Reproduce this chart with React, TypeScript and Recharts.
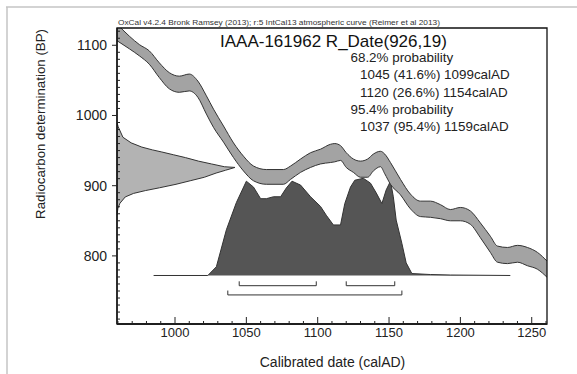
import React from 'react';
import { ComposedChart, Area, Line, XAxis, YAxis, ReferenceArea } from 'recharts';

// Calibration curve (IntCal13) band
const curveYears = [959, 968, 975, 982, 989, 996, 1003, 1010, 1016, 1022, 1027, 1034, 1041, 1048, 1055, 1064, 1076, 1081, 1088, 1095, 1102, 1109, 1112, 1116, 1120, 1125, 1130, 1135, 1139, 1144, 1147, 1151, 1158, 1165, 1172, 1179, 1186, 1193, 1200, 1207, 1214, 1221, 1226, 1233, 1240, 1247, 1254, 1261];
const curveHigh = [1131, 1113, 1101, 1092, 1075, 1061, 1056, 1059, 1049, 1028, 1009, 985, 961, 942, 928, 923, 923, 928, 938, 947, 952, 959, 960, 957, 947, 938, 935, 938, 945, 949, 945, 933, 909, 888, 878, 878, 873, 866, 869, 864, 847, 828, 814, 812, 815, 812, 805, 792];
const curveLow = [1107, 1095, 1085, 1073, 1054, 1038, 1033, 1035, 1026, 1002, 983, 962, 940, 921, 907, 902, 902, 909, 919, 926, 931, 933, 934, 936, 926, 919, 912, 912, 921, 927, 917, 902, 887, 867, 856, 855, 853, 850, 850, 845, 826, 805, 791, 789, 791, 786, 781, 769];

// Calibrated probability distribution (relative %)
const distYears = [985, 1023, 1029, 1036, 1043, 1050, 1055, 1060, 1064, 1069, 1074, 1078, 1082, 1088, 1095, 1102, 1106, 1111, 1116, 1119, 1123, 1126, 1132, 1137, 1141, 1145, 1148, 1151, 1153, 1155, 1159, 1162, 1166, 1179, 1193, 1235];
const distProb = [0, 0, 9, 47, 75, 97, 91, 79, 79, 81, 81, 90, 97, 93, 81, 71, 62, 52, 52, 74, 91, 98, 100, 95, 85, 74, 88, 97, 81, 57, 33, 13, 2, 1, 0.5, 0];

// Radiocarbon determination 926±19 BP (relative %)
const rdateBP = [990, 984, 969, 961, 955, 951, 948, 944, 940, 935, 931, 927, 926, 922, 918, 912, 907, 902, 897, 893, 889, 884, 875, 868, 858];
const rdateProb = [0, 1, 5, 12, 21, 30, 38, 48, 58, 69, 80, 91, 100, 92, 84, 74, 62, 50, 36, 24, 14, 7, 2.5, 0.8, 0];

// Ranges
const ranges68 = [[1045, 1099], [1120, 1154]];
const ranges95 = [[1037, 1159]];

const xMajorTicks = [1000, 1050, 1100, 1150, 1200, 1250];
const yMajorTicks = [800, 900, 1000, 1100];

const title = 'IAAA-161962 R_Date(926,19)';
const subtitle = 'OxCal v4.2.4 Bronk Ramsey (2013); r:5 IntCal13 atmospheric curve (Reimer et al 2013)';
const legendLines = [
  { text: '68.2% probability', indent: 0 },
  { text: '1045 (41.6%) 1099calAD', indent: 1 },
  { text: '1120 (26.6%) 1154calAD', indent: 1 },
  { text: '95.4% probability', indent: 0 },
  { text: '1037 (95.4%) 1159calAD', indent: 1 },
];

const FONT = '"Liberation Sans", Arial, Helvetica, sans-serif';
const X_DOMAIN: [number, number] = [959.35, 1260.7];
const Y_DOMAIN: [number, number] = [703, 1124.6];
const P_DOMAIN: [number, number] = [-49.9, 254.6];
const PROB_DOMAIN: [number, number] = [0, 364.4];

const xAllTicks: number[] = [];
for (let v = 960; v <= 1260; v += 10) xAllTicks.push(v);
const yAllTicks: number[] = [];
for (let v = 710; v <= 1120; v += 10) yAllTicks.push(v);

const curveData = curveYears.map((year, i) => ({ year, band: [curveLow[i], curveHigh[i]] }));
const distData = distYears.map((year, i) => ({ year, p: distProb[i] }));
const rdateData = rdateBP.map((bp, i) => ({ pct: rdateProb[i], bp }));

const bracket = (from: number, to: number, level: number) => [
  { year: from, p: level + 4.5 },
  { year: from, p: level },
  { year: to, p: level },
  { year: to, p: level + 4.5 },
];
const brackets = [
  ...ranges68.map(([a, b]) => bracket(a, b, -10.5)),
  ...ranges95.map(([a, b]) => bracket(a, b, -20)),
];

const XTick = (props: any) => {
  const { x, y, payload } = props;
  const major = xMajorTicks.includes(payload.value);
  return (
    <g>
      <line x1={x} x2={x} y1={y} y2={y - (major ? 7 : 3)} stroke="#222" strokeWidth={1} />
      {major && (
        <text x={x} y={y + 12.5} textAnchor="middle" fontSize={13} fontFamily={FONT} fill="#222">
          {payload.value}
        </text>
      )}
    </g>
  );
};

const YTick = (props: any) => {
  const { x, y, payload } = props;
  const major = yMajorTicks.includes(payload.value);
  return (
    <g>
      {major ? (
        <line x1={x} x2={x - 5} y1={y} y2={y} stroke="#222" strokeWidth={1} />
      ) : (
        <line x1={x} x2={x + 3} y1={y} y2={y} stroke="#222" strokeWidth={1} />
      )}
      {major && (
        <text x={x - 10} y={y + 5} textAnchor="end" fontSize={14} fontFamily={FONT} fill="#222">
          {payload.value}
        </text>
      )}
    </g>
  );
};

export default function App() {
  return (
    <div style={{ position: 'absolute', left: 0, top: 0, width: 577, height: 374, background: '#fff' }}>
      <ComposedChart
        width={577}
        height={374}
        margin={{ top: 28, right: 30, bottom: 20, left: 57 }}
      >
        <XAxis
          xAxisId="main"
          type="number"
          dataKey="year"
          domain={X_DOMAIN}
          allowDataOverflow
          ticks={xAllTicks}
          interval={0}
          tickSize={0}
          tickMargin={0}
          tickLine={false}
          tick={<XTick />}
          height={30}
          axisLine={{ stroke: '#111', strokeWidth: 1.3 }}
        />
        <XAxis xAxisId="prob" type="number" dataKey="pct" domain={PROB_DOMAIN} allowDataOverflow hide />
        <YAxis
          yAxisId="bp"
          type="number"
          domain={Y_DOMAIN}
          allowDataOverflow
          ticks={yAllTicks}
          interval={0}
          tickSize={0}
          tickMargin={0}
          tickLine={false}
          tick={<YTick />}
          width={60}
          axisLine={{ stroke: '#111', strokeWidth: 1.3 }}
        />
        <YAxis
          yAxisId="p"
          orientation="right"
          type="number"
          domain={P_DOMAIN}
          allowDataOverflow
          width={0}
          hide
        />
        <Area
          data={distData}
          xAxisId="main"
          yAxisId="p"
          dataKey="p"
          type="linear"
          baseValue={0}
          fill="#555555"
          fillOpacity={1}
          stroke="#333"
          strokeWidth={1}
          isAnimationActive={false}
          dot={false}
          activeDot={false}
        />
        <Area
          data={curveData}
          xAxisId="main"
          yAxisId="bp"
          dataKey="band"
          type="monotone"
          fill="#a3a3a3"
          fillOpacity={1}
          stroke="#333"
          strokeWidth={1}
          isAnimationActive={false}
          dot={false}
          activeDot={false}
        />
        <Area
          data={rdateData}
          xAxisId="prob"
          yAxisId="bp"
          dataKey="bp"
          type="linear"
          fill="#b3b3b3"
          fillOpacity={1}
          stroke="#333"
          strokeWidth={1}
          isAnimationActive={false}
          dot={false}
          activeDot={false}
        />
        {brackets.map((d, i) => (
          <Line
            key={i}
            data={d}
            xAxisId="main"
            yAxisId="p"
            dataKey="p"
            type="linear"
            stroke="#333"
            strokeWidth={1}
            dot={false}
            activeDot={false}
            isAnimationActive={false}
          />
        ))}
        <ReferenceArea
          xAxisId="main"
          yAxisId="bp"
          x1={X_DOMAIN[0]}
          x2={X_DOMAIN[1]}
          y1={Y_DOMAIN[0]}
          y2={Y_DOMAIN[1]}
          fill="none"
          fillOpacity={0}
          stroke="#111"
          strokeWidth={1.3}
          ifOverflow="visible"
        />
      </ComposedChart>
      <svg
        width={577}
        height={374}
        style={{ position: 'absolute', left: 0, top: 0, pointerEvents: 'none' }}
      >
        <line x1={6} x2={577} y1={7} y2={7} stroke="#c4c4c4" strokeWidth={1.5} />
        <line x1={7} x2={7} y1={7} y2={374} stroke="#c4c4c4" strokeWidth={1.5} />
        <text x={118} y={24.5} fontSize={7.5} fontFamily={FONT} fill="#333" textLength={322} lengthAdjust="spacingAndGlyphs">
          {subtitle}
        </text>
        <text x={220} y={47} fontSize={17} fontFamily={FONT} fill="#111">
          {title}
        </text>
        {legendLines.map((l, i) => (
          <text key={i} x={l.indent ? 360 : 350.5} y={62 + i * 17.3} fontSize={13.4} fontFamily={FONT} fill="#222">
            {l.text}
          </text>
        ))}
        <text x={332.5} y={366.5} textAnchor="middle" fontSize={14} fontFamily={FONT} fill="#222">
          Calibrated date (calAD)
        </text>
        <text
          x={44.5}
          y={124}
          textAnchor="middle"
          fontSize={13.3}
          fontFamily={FONT}
          fill="#222"
          transform="rotate(-90 44.5 124)"
        >
          Radiocarbon determination (BP)
        </text>
      </svg>
    </div>
  );
}
